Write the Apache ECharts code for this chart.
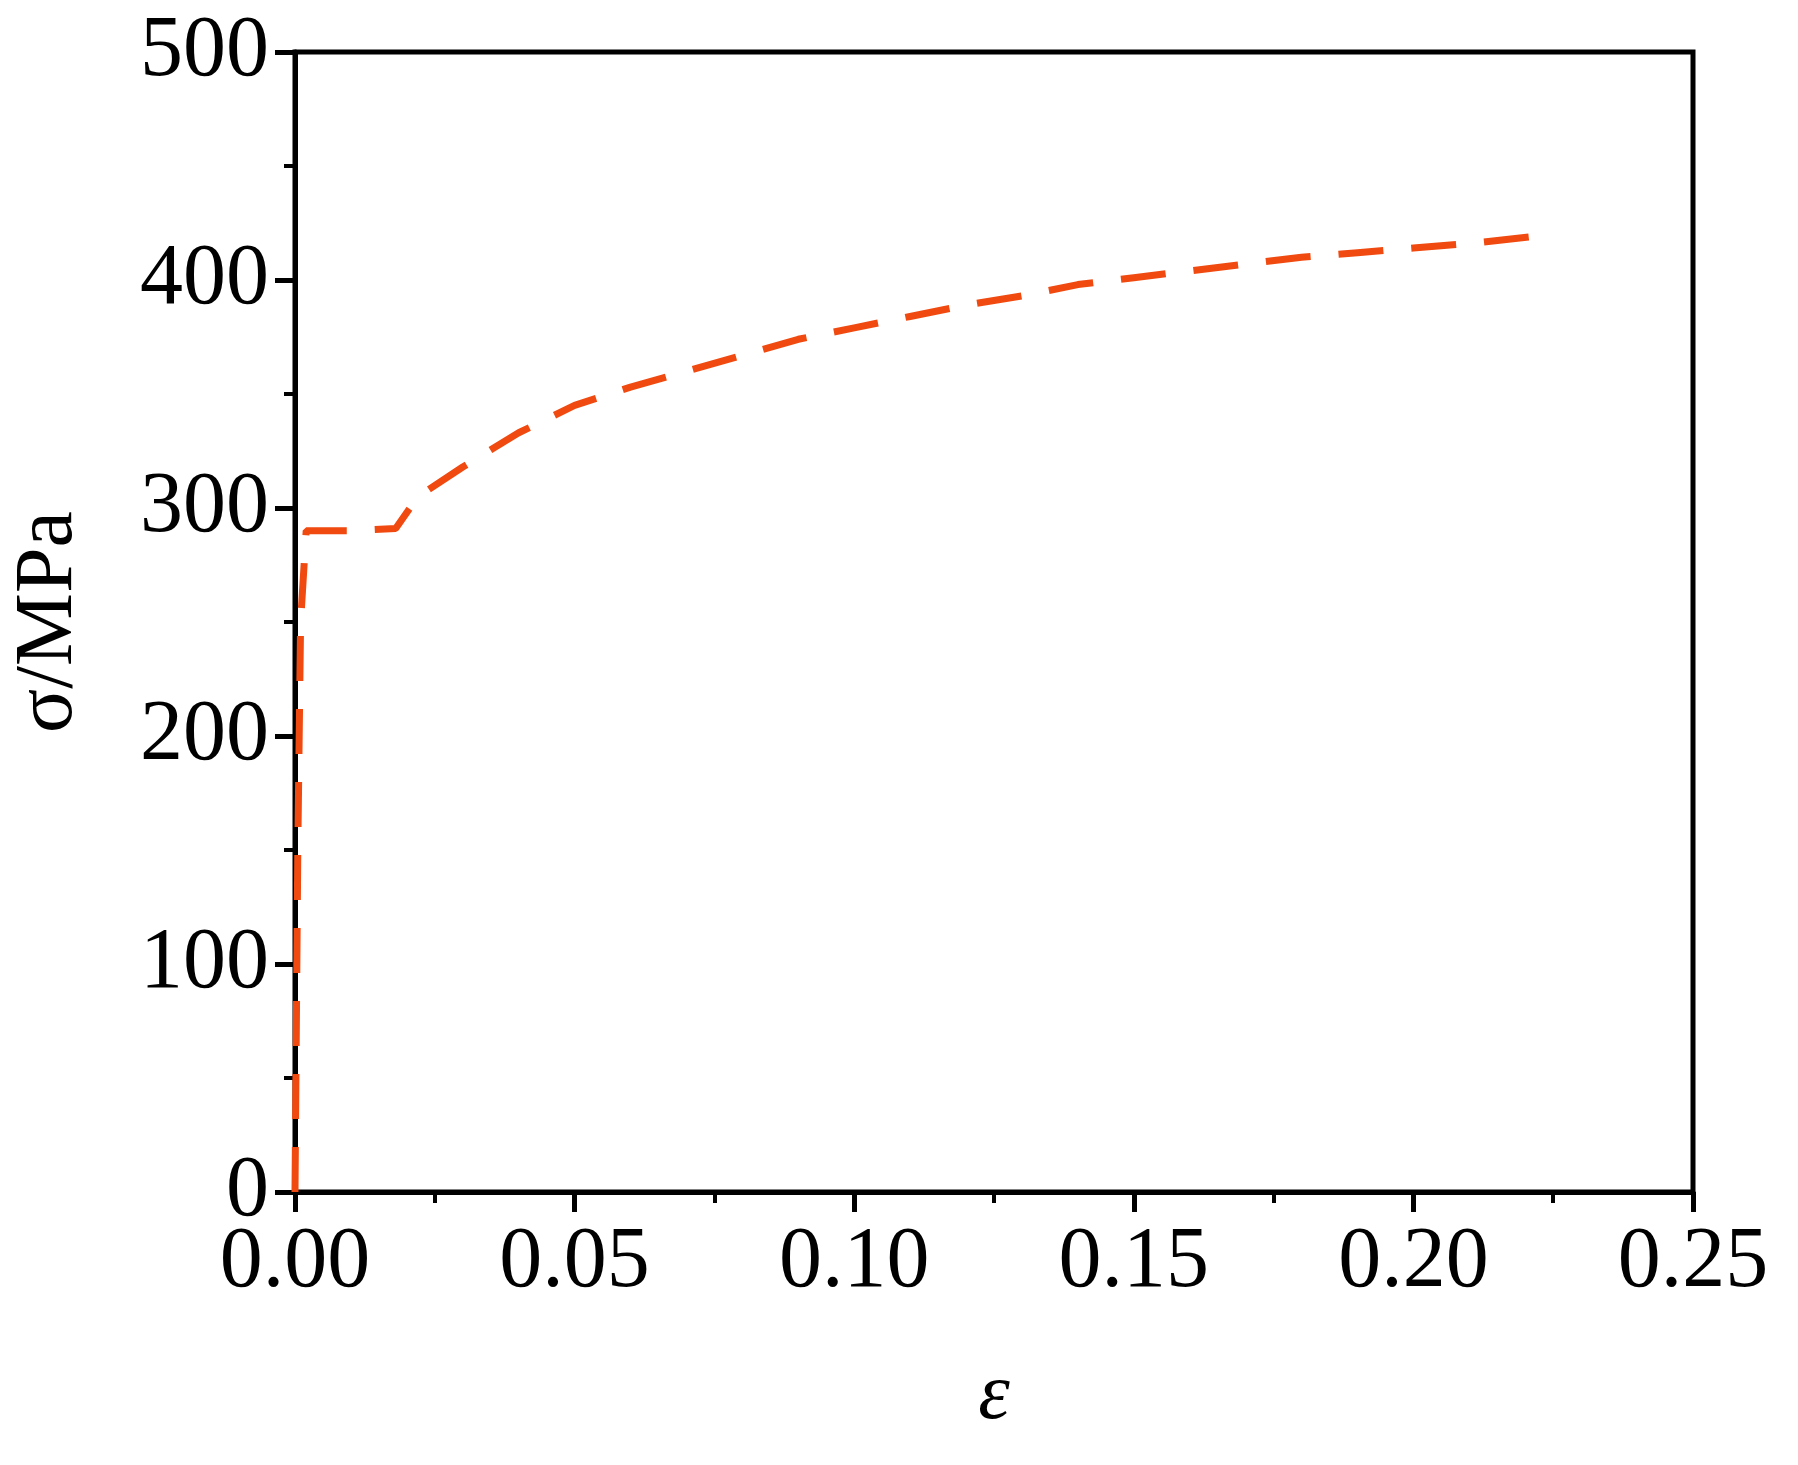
<!DOCTYPE html>
<html>
<head>
<meta charset="utf-8">
<script src="https://cdn.jsdelivr.net/npm/echarts@6/dist/echarts.min.js"></script>
<style>html,body{margin:0;padding:0;background:#fff}#c{width:1798px;height:1465px}</style>
</head>
<body>
<div id="c"></div>
<script>
// strain vs stress
const strain = [0, 0.0005, 0.001, 0.002, 0.01, 0.018, 0.022, 0.03, 0.04, 0.05, 0.06, 0.07, 0.08, 0.09, 0.10, 0.11, 0.12, 0.13, 0.14, 0.15, 0.16, 0.17, 0.18, 0.19, 0.20, 0.21, 0.225]
const stress = [0, 150, 250, 290, 290, 291, 305, 318, 333, 345, 353, 360, 367, 374, 379, 384, 389, 393, 398, 401, 404, 407, 410, 412, 414, 416, 420]
const xTicks = [0, 0.05, 0.10, 0.15, 0.20, 0.25]
const yTicks = [0, 100, 200, 300, 400, 500]

const font = "'Liberation Serif', 'Times New Roman', serif"
const chart = echarts.init(document.getElementById("c"))
chart.setOption({
  animation: false,
  grid: { left: 283, right: 105, top: 52, bottom: 273, show: true, borderColor: "#000", borderWidth: 5 },
  xAxis: {
    type: "value", min: 0, max: 0.25, interval: 0.05,
    name: "ε", nameLocation: "middle", nameGap: 165,
    nameTextStyle: { fontFamily: font, fontSize: 80, fontStyle: "italic", color: "#000" },
    axisLine: { lineStyle: { color: "#000", width: 5 } },
    axisTick: { length: 20, lineStyle: { width: 5 } },
    minorTick: { show: true, splitNumber: 2, length: 11, lineStyle: { color: "#000", width: 4 } },
    splitLine: { show: false },
    axisLabel: { fontFamily: font, fontSize: 86, color: "#000", margin: 28,
      formatter: v => xTicks.includes(+v.toFixed(2)) ? v.toFixed(2) : "" }
  },
  yAxis: {
    type: "value", min: 0, max: 500, interval: 100,
    name: "σ/MPa", nameLocation: "middle", nameGap: 205,
    nameTextStyle: { fontFamily: font, fontSize: 82, color: "#000" },
    axisLine: { lineStyle: { color: "#000", width: 5 } },
    axisTick: { length: 20, lineStyle: { width: 5 } },
    minorTick: { show: true, splitNumber: 2, length: 11, lineStyle: { color: "#000", width: 4 } },
    splitLine: { show: false },
    axisLabel: { fontFamily: font, fontSize: 86, color: "#000", margin: 26,
      formatter: v => yTicks.includes(v) ? String(v) : "" }
  },
  series: [{
    type: "line", showSymbol: false, smooth: false,
    data: strain.map((x, i) => [x, stress[i]]),
    lineStyle: { color: "#F04A10", width: 7, type: [45, 28] }
  }]
})
</script>
</body>
</html>
